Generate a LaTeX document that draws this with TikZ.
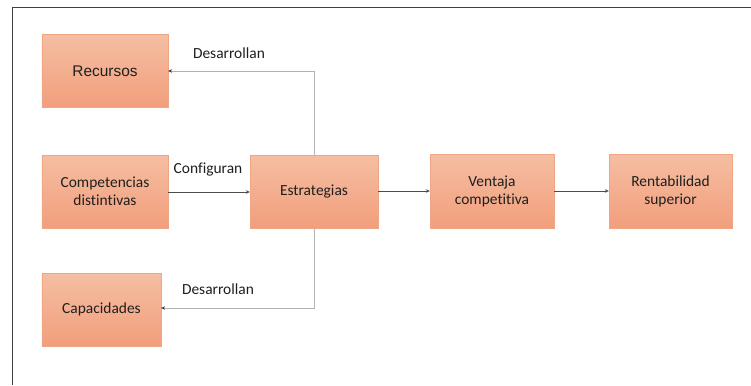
\documentclass[tikz,border=0pt]{standalone}
\usepackage{fontspec}
\setmainfont[Ligatures={NoCommon}]{Carlito}
\newfontfamily\arialfont{Liberation Sans}
\usetikzlibrary{arrows.meta}
\begin{document}
\begin{tikzpicture}[x=1bp,y=-1bp,
  box/.style={rectangle, inner sep=0pt, top color=boxtop, bottom color=boxbot,
    draw=boxedge, line width=0.3pt, align=center, font=\fontsize{15.5}{18}\selectfont, text=black!88},
  link/.style={draw=black!70, line width=0.6pt, -{Stealth[length=4bp,width=3.5bp]}},
  branch/.style={draw=black!30, line width=0.8pt, -{Stealth[length=4bp,width=3.5bp,color=black!80]}},
  tag/.style={font=\fontsize{15.5}{18}\selectfont, text=black!88}]
\definecolor{boxtop}{HTML}{F5BEA2}
\definecolor{boxbot}{HTML}{F29E7C}
\definecolor{boxedge}{HTML}{EFA685}
\useasboundingbox (0,0) rectangle (751,385);
\fill[white] (0,0) rectangle (751,385);
% outer frame
\draw[black!75, line width=1pt] (751,7) -- (12,7) -- (12,385);

% boxes
\node[box, minimum width=126bp, minimum height=73bp] (rec) at (105,71) {\arialfont\fontsize{15.5}{18}\selectfont Recursos};
\node[box, minimum width=126bp, minimum height=73bp] (comp) at (105,191.5) {Competencias\\distintivas};
\node[box, minimum width=128bp, minimum height=73bp] (est) at (314,191.5) {Estrategias};
\node[box, minimum width=119bp, minimum height=73bp] (cap) at (101.5,309.5) {Capacidades};
\node[box, minimum width=124bp, minimum height=74bp] (ven) at (492,191) {Ventaja\\competitiva};
\node[box, minimum width=123bp, minimum height=74bp] (ren) at (670.5,191) {Rentabilidad\\superior};

% connectors
\coordinate (up) at (314,71);
\coordinate (dn) at (314,308);
\draw[branch] (est.north) -- (up) -- (rec.east |- up);
\draw[branch] (est.south) -- (dn) -- (cap.east |- dn);
\draw[link] (comp.east |- 0,192) -- (est.west |- 0,192);
\draw[link] (est.east |- 0,191) -- (ven.west |- 0,191);
\draw[link] (ven.east |- 0,191) -- (ren.west |- 0,191);

% labels
\node[tag] (l1) at (229,53) {Desarrollan};
\node[tag] (l2) at (208,170) {Configuran};
\node[tag] (l3) at (218,289) {Desarrollan};
\end{tikzpicture}
\end{document}
